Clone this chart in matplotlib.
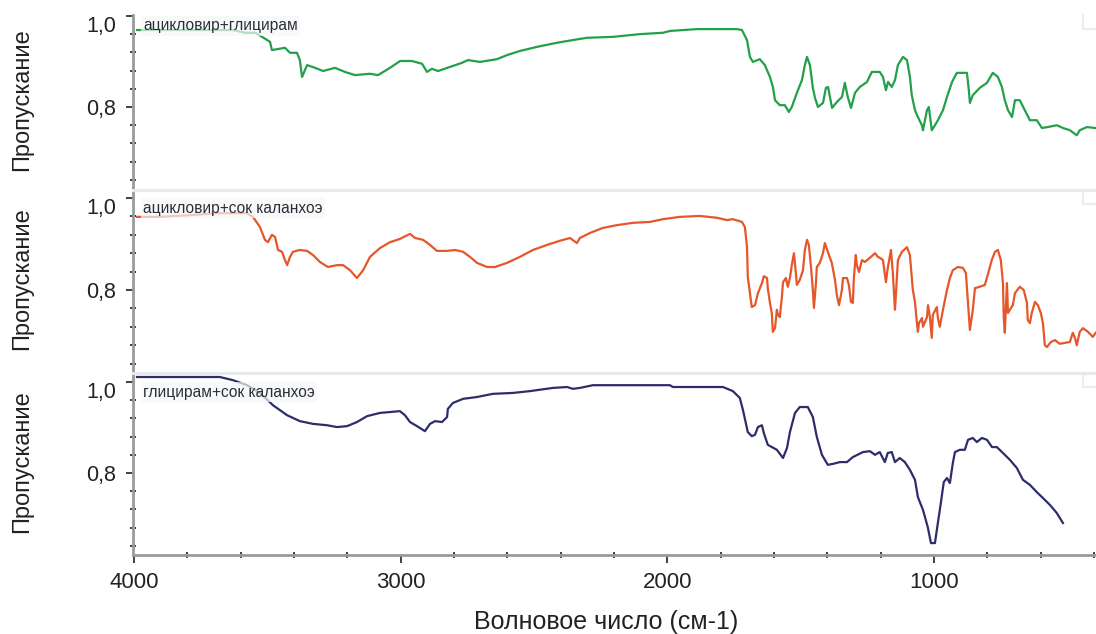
import matplotlib
matplotlib.use("Agg")
import matplotlib.pyplot as plt
from matplotlib.ticker import MultipleLocator, FixedLocator, FixedFormatter
import matplotlib.transforms as mtransforms

plt.rcParams['font.family'] = ['Liberation Sans', 'DejaVu Sans']

# ---------------- data ----------------
labels = ["ацикловир+глицирам", "ацикловир+сок каланхоэ", "глицирам+сок каланхоэ"]
y_label = "Пропускание"
x_label = "Волновое число (см-1)"
x_ticks = [4000, 3000, 2000, 1000]
y_ticks = [0.8, 1.0]
y_tick_labels = ["0,8", "1,0"]

wn_1 = [3989, 3629, 3584, 3546, 3520, 3490, 3483, 3434, 3415, 3389, 3378, 3370, 3351, 3321, 3291,
        3246, 3209, 3171, 3115, 3085, 3040, 3002, 2958, 2920, 2901, 2883, 2860, 2815, 2770, 2748,
        2703, 2639, 2601, 2553, 2489, 2414, 2354, 2301, 2204, 2103, 2016, 1990, 1889, 1739, 1720,
        1701, 1690, 1679, 1653, 1634, 1615, 1604, 1596, 1578, 1559, 1544, 1533, 1514, 1495, 1484,
        1476, 1465, 1454, 1446, 1435, 1416, 1405, 1397, 1382, 1364, 1345, 1334, 1323, 1311, 1296,
        1278, 1251, 1233, 1203, 1191, 1180, 1172, 1158, 1146, 1135, 1116, 1101, 1090, 1083, 1071,
        1060, 1045, 1041, 1026, 1019, 1008, 996, 985, 966, 951, 932, 914, 876, 869, 865,
        854, 828, 801, 779, 760, 745, 734, 722, 707, 696, 678, 659, 640, 614, 595,
        573, 539, 516, 490, 464, 453, 426, 396]
t_1 = [0.969, 0.969, 0.963, 0.963, 0.954, 0.943, 0.925, 0.930, 0.919, 0.919, 0.903, 0.866, 0.892, 0.886, 0.879,
       0.886, 0.877, 0.870, 0.873, 0.870, 0.886, 0.901, 0.901, 0.895, 0.877, 0.884, 0.879, 0.888, 0.897, 0.903,
       0.899, 0.905, 0.914, 0.923, 0.932, 0.941, 0.947, 0.952, 0.954, 0.960, 0.963, 0.967, 0.971, 0.971, 0.969,
       0.947, 0.910, 0.899, 0.905, 0.892, 0.866, 0.844, 0.815, 0.804, 0.804, 0.789, 0.800, 0.831, 0.859, 0.892,
       0.910, 0.892, 0.842, 0.820, 0.800, 0.809, 0.842, 0.844, 0.798, 0.811, 0.822, 0.853, 0.822, 0.798, 0.831,
       0.844, 0.855, 0.877, 0.877, 0.866, 0.837, 0.855, 0.844, 0.859, 0.892, 0.910, 0.903, 0.866, 0.826, 0.793,
       0.778, 0.760, 0.749, 0.793, 0.800, 0.749, 0.760, 0.771, 0.793, 0.822, 0.855, 0.875, 0.875, 0.837, 0.809,
       0.826, 0.842, 0.853, 0.875, 0.866, 0.844, 0.815, 0.793, 0.778, 0.815, 0.815, 0.793, 0.771, 0.771, 0.754,
       0.756, 0.760, 0.754, 0.749, 0.738, 0.749, 0.756, 0.754]

wn_2 = [3989, 3903, 3779, 3689, 3576, 3554, 3528, 3509, 3498, 3483, 3471, 3460, 3445, 3434, 3426,
        3415, 3404, 3378, 3351, 3329, 3303, 3273, 3239, 3216, 3190, 3164, 3141, 3115, 3078, 3040,
        3003, 2965, 2946, 2916, 2890, 2864, 2826, 2796, 2766, 2740, 2714, 2676, 2646, 2601, 2553,
        2504, 2451, 2403, 2365, 2339, 2328, 2290, 2241, 2189, 2129, 2065, 2016, 1953, 1878, 1814,
        1776, 1754, 1720, 1709, 1701, 1698, 1690, 1683, 1671, 1660, 1645, 1638, 1626, 1623, 1615,
        1608, 1604, 1596, 1589, 1585, 1578, 1570, 1566, 1555, 1548, 1540, 1533, 1525, 1518, 1514,
        1503, 1491, 1484, 1476, 1469, 1461, 1454, 1450, 1443, 1439, 1428, 1416, 1409, 1398, 1383,
        1371, 1364, 1356, 1345, 1341, 1326, 1319, 1311, 1304, 1300, 1293, 1289, 1281, 1270, 1259,
        1240, 1221, 1210, 1203, 1191, 1180, 1173, 1161, 1154, 1146, 1143, 1135, 1120, 1101, 1090,
        1083, 1079, 1071, 1064, 1060, 1056, 1045, 1041, 1026, 1022, 1015, 1008, 1004, 989, 985,
        978, 966, 951, 940, 929, 910, 891, 880, 872, 865, 854, 846, 828, 809, 798,
        783, 771, 760, 749, 741, 738, 734, 726, 722, 711, 704, 696, 678, 663, 651,
        648, 640, 633, 621, 610, 599, 591, 584, 576, 561, 546, 528, 509, 490, 479,
        471, 464, 453, 441, 422, 404, 393]
t_2 = [0.959, 0.959, 0.963, 0.967, 0.967, 0.959, 0.937, 0.909, 0.904, 0.920, 0.915, 0.887, 0.883, 0.865, 0.854,
       0.872, 0.883, 0.887, 0.885, 0.876, 0.861, 0.850, 0.854, 0.854, 0.843, 0.826, 0.843, 0.872, 0.891, 0.904,
       0.911, 0.922, 0.913, 0.909, 0.898, 0.885, 0.885, 0.887, 0.883, 0.872, 0.859, 0.850, 0.850, 0.859, 0.872,
       0.887, 0.898, 0.907, 0.913, 0.902, 0.913, 0.924, 0.935, 0.941, 0.946, 0.948, 0.954, 0.959, 0.961, 0.957,
       0.952, 0.954, 0.948, 0.937, 0.893, 0.828, 0.793, 0.763, 0.767, 0.793, 0.815, 0.830, 0.826, 0.804, 0.772,
       0.750, 0.709, 0.717, 0.757, 0.746, 0.741, 0.785, 0.817, 0.826, 0.807, 0.826, 0.854, 0.880, 0.839, 0.811,
       0.822, 0.843, 0.887, 0.909, 0.898, 0.850, 0.800, 0.761, 0.811, 0.850, 0.859, 0.880, 0.902, 0.883, 0.859,
       0.822, 0.789, 0.767, 0.800, 0.826, 0.826, 0.811, 0.774, 0.772, 0.828, 0.876, 0.854, 0.839, 0.865, 0.861,
       0.870, 0.880, 0.872, 0.870, 0.865, 0.817, 0.848, 0.887, 0.837, 0.757, 0.785, 0.865, 0.883, 0.893, 0.876,
       0.828, 0.800, 0.774, 0.730, 0.709, 0.728, 0.739, 0.720, 0.741, 0.767, 0.741, 0.696, 0.746, 0.763, 0.739,
       0.720, 0.757, 0.800, 0.826, 0.843, 0.850, 0.848, 0.837, 0.772, 0.713, 0.757, 0.804, 0.807, 0.811, 0.833,
       0.865, 0.883, 0.887, 0.865, 0.815, 0.741, 0.707, 0.815, 0.750, 0.761, 0.767, 0.793, 0.807, 0.800, 0.772,
       0.735, 0.728, 0.750, 0.774, 0.767, 0.750, 0.728, 0.680, 0.676, 0.687, 0.691, 0.683, 0.685, 0.687, 0.707,
       0.696, 0.680, 0.709, 0.717, 0.709, 0.698, 0.707]

wn_3 = [3989, 3678, 3629, 3576, 3528, 3479, 3426, 3378, 3329, 3276, 3239, 3201, 3164, 3126, 3078,
        3040, 3003, 2984, 2965, 2939, 2909, 2890, 2871, 2845, 2826, 2823, 2804, 2766, 2714, 2654,
        2579, 2515, 2429, 2376, 2354, 2328, 2279, 2204, 1990, 1979, 1791, 1754, 1728, 1716, 1698,
        1683, 1671, 1660, 1645, 1638, 1623, 1589, 1566, 1551, 1540, 1521, 1503, 1473, 1454, 1439,
        1420, 1398, 1379, 1353, 1326, 1304, 1266, 1240, 1221, 1203, 1184, 1173, 1158, 1146, 1128,
        1109, 1090, 1071, 1060, 1041, 1023, 1011, 996, 989, 974, 963, 951, 940, 929, 921,
        903, 884, 872, 854, 839, 820, 801, 782, 764, 741, 715, 689, 666, 640, 614,
        591, 565, 539, 516]
t_3 = [1.011, 1.011, 1.004, 0.993, 0.976, 0.949, 0.927, 0.914, 0.908, 0.905, 0.901, 0.903, 0.912, 0.925, 0.932,
       0.934, 0.936, 0.927, 0.912, 0.903, 0.892, 0.908, 0.914, 0.912, 0.923, 0.941, 0.954, 0.963, 0.967, 0.974,
       0.976, 0.980, 0.987, 0.989, 0.985, 0.987, 0.993, 0.993, 0.993, 0.989, 0.989, 0.980, 0.965, 0.938, 0.890,
       0.881, 0.884, 0.901, 0.905, 0.888, 0.862, 0.851, 0.833, 0.855, 0.890, 0.932, 0.945, 0.945, 0.923, 0.879,
       0.840, 0.818, 0.820, 0.824, 0.824, 0.835, 0.846, 0.848, 0.840, 0.846, 0.824, 0.844, 0.846, 0.824, 0.833,
       0.824, 0.807, 0.785, 0.747, 0.719, 0.681, 0.646, 0.646, 0.675, 0.734, 0.780, 0.789, 0.778, 0.822, 0.846,
       0.851, 0.851, 0.873, 0.877, 0.868, 0.877, 0.873, 0.857, 0.857, 0.844, 0.829, 0.811, 0.785, 0.774, 0.758,
       0.745, 0.730, 0.712, 0.690]

series = [(wn_1, t_1), (wn_2, t_2), (wn_3, t_3)]
colors = ["#22a04a", "#e5572a", "#2e2d6c"]

# ---------------- layout ----------------
W, H = 1096, 634
fig = plt.figure(figsize=(W / 100, H / 100), dpi=100)
fig.patch.set_facecolor("white")

# (top_px, bottom_px, ylim)
panels = [(15, 189, (0.620, 1.002)),
          (190, 372, (0.6217, 1.0174)),
          (373, 555, (0.6198, 1.0198))]
left_px = 133
xlim = (4004, 392)

spine_col = "#9a9a9a"
tick_col = "#333333"
txt_col = "#222222"

axes = []
for i, (top, bot, ylim) in enumerate(panels):
    ax = fig.add_axes([left_px / W, (H - bot) / H, (W - left_px) / W, (bot - top) / H])
    wn, t = series[i]
    ax.plot(wn, t, color=colors[i], lw=1.6, zorder=2)
    ax.set_xlim(*xlim)
    ax.set_ylim(*ylim)

    ax.spines["right"].set_visible(False)
    ax.spines["left"].set_color(spine_col)
    ax.spines["left"].set_linewidth(2.0)
    if i == 0:
        ax.spines["top"].set_visible(False)
    else:
        ax.spines["top"].set_color("#e6eaea")
        ax.spines["top"].set_linewidth(2.2)
    if i == 2:
        ax.spines["bottom"].set_color(spine_col)
        ax.spines["bottom"].set_linewidth(2.0)
    else:
        ax.spines["bottom"].set_visible(False)

    ax.yaxis.set_major_locator(FixedLocator(y_ticks))
    ax.yaxis.set_major_formatter(FixedFormatter(y_tick_labels))
    ax.yaxis.set_minor_locator(MultipleLocator(0.04))
    ax.xaxis.set_major_locator(FixedLocator(x_ticks))
    ax.xaxis.set_minor_locator(MultipleLocator(200))

    ax.tick_params(axis="y", which="major", direction="out", length=5, width=1.3,
                   color=tick_col, labelsize=15.5, labelcolor=txt_col, pad=7)
    ax.tick_params(axis="y", which="minor", direction="inout", length=4, width=1.3, color=tick_col)
    if i == 2:
        ax.tick_params(axis="x", which="major", direction="out", length=6, width=1.3,
                       color=tick_col, labelsize=16, labelcolor=txt_col, pad=6)
        ax.tick_params(axis="x", which="minor", direction="inout", length=4, width=1.3, color=tick_col)
        ax.set_xticklabels([str(v) for v in x_ticks])
    else:
        ax.tick_params(axis="x", which="both", bottom=False, labelbottom=False)

    for lab in ax.get_yticklabels():
        if lab.get_text() == "1,0":
            lab.set_verticalalignment("top")

    trans = mtransforms.blended_transform_factory(ax.transAxes, ax.transData)
    ax.text(0.0105, 0.978, labels[i], transform=trans, fontsize=11.2, color="#2d2d3a",
            va="center", ha="left", zorder=3,
            bbox=dict(boxstyle="square,pad=0.15", fc="#f6f7f7", ec="none", alpha=0.7))

    # faint bracket at top-right
    ax.plot([0.987, 0.987], [1.0, 1.0 - 14 / (bot - top)], transform=ax.transAxes,
            color="#ececec", lw=1.5, clip_on=False)
    ax.plot([0.987, 1.0], [1.0 - 14 / (bot - top)] * 2, transform=ax.transAxes,
            color="#ececec", lw=1.5, clip_on=False)

    fig.text(22 / W, 1 - ((top + bot) / 2 - 2) / H, y_label, rotation=90, ha="center", va="center",
             fontsize=17, color=txt_col)
    axes.append(ax)

fig.text(606 / W, 1 - 622 / H, x_label, ha="center", va="center", fontsize=18, color=txt_col)

fig.savefig("out.png", dpi=100, facecolor="white")
